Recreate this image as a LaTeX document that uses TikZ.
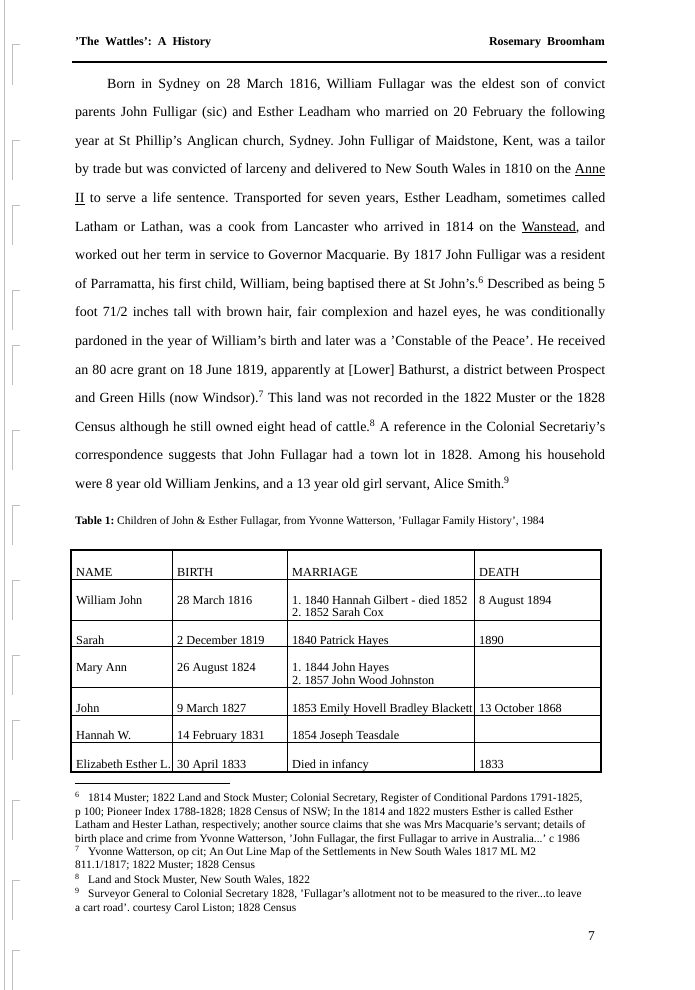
\documentclass[tikz,border=0pt]{standalone}
\usepackage{fontspec}
\setmainfont{Liberation Serif}
\usetikzlibrary{positioning}
\frenchspacing

\tikzset{
    cell/.style={anchor=base west, inner sep=0pt, font=\fontsize{12.3}{14}\selectfont},
    fnline/.style={anchor=base west, inner sep=0pt, font=\fontsize{11.4}{13}\selectfont},
    headtext/.style={inner sep=0pt, font=\fontsize{12}{14}\selectfont\bfseries},
    margmark/.style={draw=black!25, line width=1pt}
}

\begin{document}
\begin{tikzpicture}[x=1pt, y=-1pt]

    % Page
    \useasboundingbox (0,0) rectangle (694,990);
    \fill[white] (0,0) rectangle (694,990);

    % Binding marks
    \draw[margmark] (4,0) -- (4,990);
    \foreach \yy in {45,140,205,290,345,430,505,580,655,720,800,880,950}
        \draw[margmark] (20,\yy) -- (12,\yy) -- (12,\yy+40);

    % Header
    \node[headtext, anchor=base west] (head_l) at (75,46) {'The\ \ Wattles':\ \ A\ \ History};
    \node[headtext, anchor=base east] (head_r) at (605,46) {Rosemary\ \ Broomham};
    \draw[line width=1.4pt] (72,62) -- (607,62);

    % Body
    \node[anchor=north west, inner sep=0pt, text width=530pt, align=justify,
          font=\fontsize{14}{28.6}\selectfont] (body) at (75,78)
    {\hspace*{32pt}Born in Sydney on 28 March 1816, William Fullagar was the eldest son of convict\linebreak
    parents John Fulligar (sic) and Esther Leadham who married on 20 February the following\linebreak
    year at St Phillip's Anglican church, Sydney. John Fulligar of Maidstone, Kent, was a tailor\linebreak
    by trade but was convicted of larceny and delivered to New South Wales in 1810 on the \underline{Anne}\linebreak
    \underline{II} to serve a life sentence. Transported for seven years, Esther Leadham, sometimes called\linebreak
    Latham or Lathan, was a cook from Lancaster who arrived in 1814 on the \underline{Wanstead}, and\linebreak
    worked out her term in service to Governor Macquarie. By 1817 John Fulligar was a resident\linebreak
    of Parramatta, his first child, William, being baptised there at St John's.\textsuperscript{6} Described as being 5\linebreak
    foot 71/2 inches tall with brown hair, fair complexion and hazel eyes, he was conditionally\linebreak
    pardoned in the year of William's birth and later was a 'Constable of the Peace'. He received\linebreak
    an 80 acre grant on 18 June 1819, apparently at [Lower] Bathurst, a district between Prospect\linebreak
    and Green Hills (now Windsor).\textsuperscript{7} This land was not recorded in the 1822 Muster or the 1828\linebreak
    Census although he still owned eight head of cattle.\textsuperscript{8} A reference in the Colonial Secretariy's\linebreak
    correspondence suggests that John Fullagar had a town lot in 1828. Among his household\linebreak
    were 8 year old William Jenkins, and a 13 year old girl servant, Alice Smith.\textsuperscript{9}\par};

    % Caption
    \node[fnline] (caption) at (75,524) {\textbf{Table 1:} Children of John \& Esther Fullagar, from Yvonne Watterson, 'Fullagar Family History', 1984};

    % Table
    \draw[line width=0.6pt] (71,579) -- (601,579);
    \foreach \yy in {620,646,687,715,742}
        \draw[line width=0.6pt] (71,\yy) -- (601,\yy);
    \foreach \xx in {172,287,474}
        \draw[line width=0.6pt] (\xx,550) -- (\xx,772);
    \draw[line width=1.2pt] (71,550) rectangle (601,772);

    \node[cell] (h_name)  at (76,576)  {NAME};
    \node[cell] (h_birth) at (177,576) {BIRTH};
    \node[cell] (h_marr)  at (292,576) {MARRIAGE};
    \node[cell] (h_death) at (479,576) {DEATH};

    \node[cell] (n1) at (76,604)  {William John};
    \node[cell] (b1) at (177,604) {28 March 1816};
    \node[cell] (m1) at (292,604) {1. 1840 Hannah Gilbert - died 1852};
    \node[cell] (m1b) at (292,616) {2. 1852 Sarah Cox};
    \node[cell] (d1) at (479,604) {8 August 1894};

    \node[cell] (n2) at (76,644)  {Sarah};
    \node[cell] (b2) at (177,644) {2 December 1819};
    \node[cell] (m2) at (292,644) {1840 Patrick Hayes};
    \node[cell] (d2) at (479,644) {1890};

    \node[cell] (n3) at (76,671)  {Mary Ann};
    \node[cell] (b3) at (177,671) {26 August 1824};
    \node[cell] (m3) at (292,671) {1. 1844 John Hayes};
    \node[cell] (m3b) at (292,684) {2. 1857 John Wood Johnston};

    \node[cell] (n4) at (76,712)  {John};
    \node[cell] (b4) at (177,712) {9 March 1827};
    \node[cell] (m4) at (292,712) {1853 Emily Hovell Bradley Blackett};
    \node[cell] (d4) at (479,712) {13 October 1868};

    \node[cell] (n5) at (76,739)  {Hannah W.};
    \node[cell] (b5) at (177,739) {14 February 1831};
    \node[cell] (m5) at (292,739) {1854 Joseph Teasdale};

    \node[cell] (n6) at (76,768)  {Elizabeth Esther L.};
    \node[cell] (b6) at (177,768) {30 April 1833};
    \node[cell] (m6) at (292,768) {Died in infancy};
    \node[cell] (d6) at (479,768) {1833};

    % Footnotes
    \draw[line width=0.6pt] (75,783) -- (230,783);
    \node[fnline] (fn6a) at (75,801) {\textsuperscript{6}\ \ \ 1814 Muster; 1822 Land and Stock Muster; Colonial Secretary, Register of Conditional Pardons 1791-1825,};
    \node[fnline] (fn6b) at (75,815) {p 100; Pioneer Index 1788-1828; 1828 Census of NSW; In the 1814 and 1822 musters Esther is called Esther};
    \node[fnline] (fn6c) at (75,828) {Latham and Hester Lathan, respectively; another source claims that she was Mrs Macquarie's servant; details of};
    \node[fnline] (fn6d) at (75,842) {birth place and crime from Yvonne Watterson, 'John Fullagar, the first Fullagar to arrive in Australia...' c 1986};
    \node[fnline] (fn7a) at (75,855) {\textsuperscript{7}\ \ \ Yvonne Watterson, op cit; An Out Line Map of the Settlements in New South Wales 1817 ML M2};
    \node[fnline] (fn7b) at (75,868) {811.1/1817; 1822 Muster; 1828 Census};
    \node[fnline] (fn8)  at (75,883) {\textsuperscript{8}\ \ \ Land and Stock Muster, New South Wales, 1822};
    \node[fnline] (fn9a) at (75,897) {\textsuperscript{9}\ \ \ Surveyor General to Colonial Secretary 1828, 'Fullagar's allotment not to be measured to the river...to leave};
    \node[fnline] (fn9b) at (75,911) {a cart road'. courtesy Carol Liston; 1828 Census};

    % Page number
    \node[anchor=base east, inner sep=0pt, font=\fontsize{13.5}{16}\selectfont] (pageno) at (595,940) {7};

\end{tikzpicture}
\end{document}
